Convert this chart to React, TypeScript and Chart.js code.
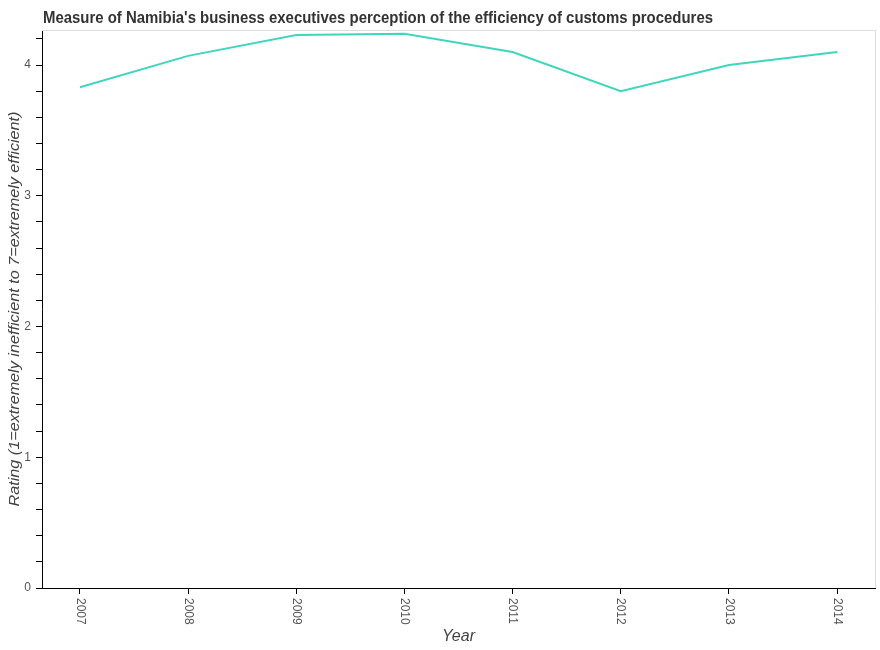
import React, { useEffect, useRef } from "react";
import { Chart, registerables } from "chart.js";

Chart.register(...registerables);

const years = [2007, 2008, 2009, 2010, 2011, 2012, 2013, 2014];
const ratings = [3.83, 4.07, 4.23, 4.24, 4.1, 3.8, 4.0, 4.1];
const yTickValues = [0, 0.2, 0.4, 0.6, 0.8, 1, 1.2, 1.4, 1.6, 1.8, 2, 2.2, 2.4, 2.6, 2.8, 3, 3.2, 3.4, 3.6, 3.8, 4, 4.2];
const titleText = "Measure of Namibia's business executives perception of the efficiency of customs procedures";
const yTitleText = "Rating (1=extremely inefficient to 7=extremely efficient)";
const xTitleText = "Year";

const FONT = "'Liberation Sans', Arial, sans-serif";

const decorPlugin = {
  id: "decor",
  afterDraw(chart: any) {
    const { ctx, chartArea } = chart;
    const { left, right, top, bottom } = chartArea;
    ctx.save();
    // light frame top & right
    ctx.strokeStyle = "#dddddd";
    ctx.lineWidth = 1;
    ctx.beginPath();
    ctx.moveTo(left, top + 0.5);
    ctx.lineTo(right + 0.5, top + 0.5);
    ctx.lineTo(right + 0.5, bottom);
    ctx.stroke();

    // title
    ctx.fillStyle = "#333333";
    ctx.font = "bold 16px " + FONT;
    ctx.textBaseline = "alphabetic";
    ctx.textAlign = "left";
    const tw = ctx.measureText(titleText).width;
    ctx.save();
    ctx.translate(43, 23);
    ctx.scale(670 / tw, 1);
    ctx.fillText(titleText, 0, 0);
    ctx.restore();

    // x tick labels, rotated clockwise (read top to bottom)
    const xScale = chart.scales.x;
    ctx.fillStyle = "#555555";
    ctx.font = "12px " + FONT;
    ctx.textAlign = "left";
    ctx.textBaseline = "middle";
    years.forEach((yr) => {
      const px = xScale.getPixelForValue(yr);
      ctx.save();
      ctx.translate(px, bottom + 10);
      ctx.rotate(Math.PI / 2);
      ctx.fillText(String(yr), 0, 0);
      ctx.restore();
    });

    // y title
    ctx.fillStyle = "#444444";
    ctx.font = "italic 15px " + FONT;
    ctx.textAlign = "center";
    ctx.textBaseline = "middle";
    const yw = ctx.measureText(yTitleText).width;
    ctx.save();
    ctx.translate(15, (top + bottom) / 2);
    ctx.rotate(-Math.PI / 2);
    ctx.scale(395 / yw, 1);
    ctx.fillText(yTitleText, 0, 0);
    ctx.restore();

    // x title
    ctx.font = "italic 16px " + FONT;
    ctx.fillText(xTitleText, (left + right) / 2, 637);
    ctx.restore();
  },
};

export default function App() {
  const ref = useRef<HTMLCanvasElement | null>(null);

  useEffect(() => {
    if (!ref.current) return;
    const chart = new Chart(ref.current, {
      type: "line",
      data: {
        datasets: [
          {
            data: years.map((y, i) => ({ x: y, y: ratings[i] })),
            borderColor: "#3fd6bd",
            borderWidth: 2,
            pointRadius: 0,
            fill: false,
            tension: 0,
          },
        ],
      },
      options: {
        animation: false,
        responsive: false,
        maintainAspectRatio: false,
        layout: { padding: { top: 30, right: 5, left: 0, bottom: 0 } },
        plugins: {
          legend: { display: false },
          tooltip: { enabled: false },
          title: { display: false },
        },
        scales: {
          x: {
            type: "linear",
            min: 2006.65,
            max: 2014.35,
            afterBuildTicks: (scale: any) => {
              scale.ticks = years.map((v) => ({ value: v }));
            },
            afterFit: (scale: any) => {
              scale.height = 62;
            },
            grid: {
              drawOnChartArea: false,
              drawTicks: true,
              tickLength: 6,
              color: "#000000",
            },
            border: { display: true, color: "#000000", width: 1 },
            ticks: {
              display: false,
              autoSkip: false,
            },
          },
          y: {
            type: "linear",
            min: 0,
            max: 4.268,
            afterBuildTicks: (scale: any) => {
              scale.ticks = yTickValues.map((v) => ({ value: v }));
            },
            afterFit: (scale: any) => {
              scale.width = 42;
            },
            grid: {
              drawOnChartArea: false,
              drawTicks: true,
              tickLength: 6,
              color: "#000000",
            },
            border: { display: true, color: "#000000", width: 1 },
            ticks: {
              autoSkip: false,
              padding: 5,
              color: "#555555",
              font: { family: FONT, size: 12 },
              callback: (v: any) => (Math.abs(v - Math.round(v)) < 1e-6 ? String(Math.round(v)) : ""),
            },
          },
        },
      },
      plugins: [decorPlugin],
    } as any);
    return () => chart.destroy();
  }, []);

  return (
    <div style={{ position: "fixed", left: 0, top: 0, width: 880, height: 650, background: "#ffffff" }}>
      <canvas ref={ref} width={880} height={650} style={{ width: 880, height: 650, display: "block" }} />
    </div>
  );
}
